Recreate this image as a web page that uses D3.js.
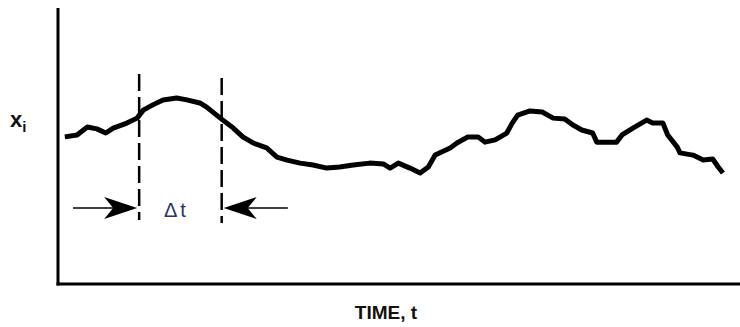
<!DOCTYPE html>
<html>
<head>
<meta charset="utf-8">
<script src="https://cdn.jsdelivr.net/npm/d3@7"></script>
<style>
  body { margin: 0; background: #fff; }
</style>
</head>
<body>
<div id="chart"></div>
<script>
// Signal trace (time and x_i both on a 0-100 scale)
var timeValues = [1.0, 2.8, 4.3, 5.7, 7.0, 8.1, 10.1, 11.6, 12.5, 13.9, 15.4, 17.4, 18.9, 20.8, 21.8,
  23.8, 25.7, 27.1, 28.6, 30.6, 32.1, 33.6, 35.5, 37.4, 39.4, 41.3, 43.3, 45.7, 47.7, 48.7,
  49.9, 51.6, 53.1, 54.3, 55.3, 57.5, 58.5, 60.1, 61.6, 62.6, 64.1, 65.8, 66.6, 67.4, 69.2,
  71.0, 72.6, 74.3, 75.5, 76.8, 78.4, 79.0, 81.9, 82.7, 84.3, 86.3, 87.2, 88.7, 89.4, 90.8,
  91.2, 93.1, 94.6, 96.0, 96.8, 97.5];
var signalValues = [53.3, 54.0, 56.9, 56.2, 54.7, 56.5, 58.3, 60.1, 63.0, 64.9, 66.7, 67.4, 66.7, 65.6, 64.1,
  60.1, 56.5, 53.3, 51.1, 49.3, 46.0, 44.9, 43.8, 43.1, 42.0, 42.4, 43.1, 43.8, 43.5, 42.0,
  43.8, 42.0, 40.2, 42.4, 46.7, 49.3, 51.1, 53.3, 53.3, 51.4, 52.2, 54.7, 58.3, 61.2, 62.7,
  62.3, 60.1, 59.8, 57.6, 55.8, 54.7, 51.4, 51.4, 54.0, 56.5, 59.4, 58.3, 58.3, 54.0, 49.6,
  47.5, 46.7, 44.9, 45.3, 42.4, 40.2];

// Δt window markers: [time, top, bottom]
var windowMarkers = [[11.9, 76.1, 23.2], [24.0, 74.6, 22.1]];
// arrows: [from time, to time, level]
var arrows = [[2.2, 11.9, 27.5], [33.7, 24.0, 27.5]];

var width = 740, height = 327;

var svg = d3.select('#chart').append('svg')
    .attr('width', width)
    .attr('height', height)
    .attr('font-family', 'Liberation Sans, Arial, sans-serif');

var x = d3.scaleLinear().domain([0, 100]).range([58, 740]);
var y = d3.scaleLinear().domain([0, 100]).range([284, 8]);

// axes (plain L shape, no ticks)
svg.append('line')
    .attr('x1', x(0)).attr('x2', x(0))
    .attr('y1', y(100)).attr('y2', y(0) + 1.5)
    .attr('stroke', '#000').attr('stroke-width', 3);
svg.append('line')
    .attr('x1', x(0) - 1.5).attr('x2', x(100))
    .attr('y1', y(0)).attr('y2', y(0))
    .attr('stroke', '#000').attr('stroke-width', 3);

// trace
var line = d3.line()
    .x(function (d, i) { return x(timeValues[i]); })
    .y(function (d) { return y(d); });

svg.append('path')
    .datum(signalValues)
    .attr('d', line)
    .attr('fill', 'none')
    .attr('stroke', '#000')
    .attr('stroke-width', 5)
    .attr('stroke-linejoin', 'round');

// dashed window lines
svg.selectAll('.marker')
    .data(windowMarkers)
    .enter().append('line')
    .attr('class', 'marker')
    .attr('x1', d => x(d[0])).attr('x2', d => x(d[0]))
    .attr('y1', d => y(d[1])).attr('y2', d => y(d[2]))
    .attr('stroke', '#000')
    .attr('stroke-width', 2.5)
    .attr('stroke-dasharray', '17,6');

// arrows pointing at the window edges
var head = 'M0,0 L-33,-11 L-24,0 L-33,11 Z';
arrows.forEach(function (a) {
    var x0 = x(a[0]), x1 = x(a[1]), yy = y(a[2]);
    var dir = x1 > x0 ? 1 : -1;
    svg.append('line')
        .attr('x1', x0).attr('x2', x1 - dir * 24)
        .attr('y1', yy).attr('y2', yy)
        .attr('stroke', '#000').attr('stroke-width', 1.5);
    svg.append('path')
        .attr('d', head)
        .attr('transform', 'translate(' + (x1 - dir * 2) + ',' + yy + ') scale(' + dir + ',1)')
        .attr('fill', '#000');
});

// labels
svg.append('text')
    .attr('x', 164).attr('y', 217)
    .style('font-size', '20px')
    .style('fill', '#28326e')
    .text('Δ')
  .append('tspan')
    .attr('dx', 3)
    .text('t');

var xi = svg.append('text')
    .attr('x', 10).attr('y', 127)
    .style('font-size', '22px')
    .style('font-weight', 700)
    .style('fill', '#111')
    .text('x');
xi.append('tspan')
    .attr('dy', 5)
    .style('font-size', '15px')
    .text('i');

svg.append('text')
    .attr('x', 386).attr('y', 319)
    .attr('text-anchor', 'middle')
    .style('font-size', '19px')
    .style('font-weight', 700)
    .style('fill', '#111')
    .text('TIME, t');
</script>
</body>
</html>
